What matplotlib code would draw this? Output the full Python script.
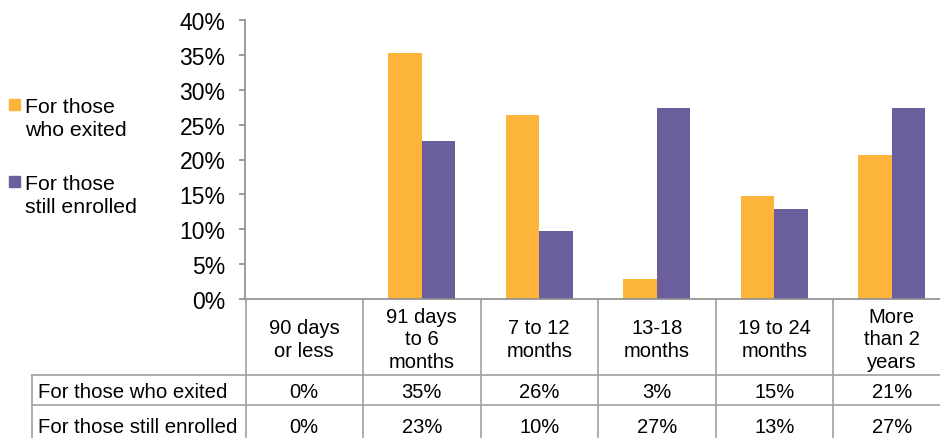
import matplotlib
matplotlib.use("Agg")
from matplotlib import pyplot as plt
from matplotlib.patches import Rectangle
import numpy as np

plt.rcParams['font.family'] = ['Liberation Sans', 'DejaVu Sans']

# data
categories = ['90 days\nor less', '91 days\nto 6\nmonths', '7 to 12\nmonths',
              '13-18\nmonths', '19 to 24\nmonths', 'More\nthan 2\nyears']
exited = [0.0, 35.3, 26.4, 2.9, 14.7, 20.6]
enrolled = [0.0, 22.6, 9.7, 27.4, 12.9, 27.4]
exited_lbl = ['0%', '35%', '26%', '3%', '15%', '21%']
enrolled_lbl = ['0%', '23%', '10%', '27%', '13%', '27%']
series_names = ['For those who exited', 'For those still enrolled']
legend_names = ['For those\nwho exited', 'For those\nstill enrolled']

orange = '#FDB43A'
purple = '#6B5E9D'
grey = '#8C8C8C'
fs = 14.7

W, H = 940, 439
fig = plt.figure(figsize=(W / 100, H / 100), dpi=100)

# pixel layout
left_px, cat_px = 245.5, 117.5
top_px, base_px = 21, 300
n = len(categories)

ax = fig.add_axes([left_px / W, (H - base_px) / H, n * cat_px / W, (base_px - top_px) / H])
x = np.arange(n) + 0.5
bw = 0.285
ax.bar(x - bw / 2, exited, bw, color=orange)
ax.bar(x + bw / 2, enrolled, bw, color=purple)
ax.set_xlim(0, n)
ax.set_ylim(0, 40)
ax.set_yticks(np.arange(0, 41, 5))
ax.set_yticklabels(['%d%%' % v for v in range(0, 41, 5)], fontsize=16.5)
ax.set_xticks([])
for s in ['top', 'right']:
    ax.spines[s].set_visible(False)
for s in ['left', 'bottom']:
    ax.spines[s].set_color(grey)
    ax.spines[s].set_linewidth(1.2)
ax.tick_params(axis='y', length=4.5, width=1.2, color=grey, pad=10)

# data table under the plot
tab_left_px = 32
ax_t = fig.add_axes([tab_left_px / W, 0, (left_px + n * cat_px - tab_left_px) / W, (H - base_px) / H])
ax_t.set_xlim((tab_left_px - left_px) / cat_px, n)
ax_t.set_ylim(H - base_px, 0)
ax_t.axis('off')
xl = (tab_left_px - left_px) / cat_px
lc = '#A0A0A0'
for i in range(n + 1):
    ax_t.plot([i, i], [0, 139], color=lc, lw=1.2, clip_on=False)
ax_t.plot([xl, xl], [76, 139], color=lc, lw=1.2, clip_on=False)
for yy in [76, 106]:
    ax_t.plot([xl, n], [yy, yy], color=lc, lw=1.2, clip_on=False)

for i, c in enumerate(categories):
    ax_t.text(x[i], 40, c, ha='center', va='center', fontsize=14.5, linespacing=1.22)
    ax_t.text(x[i], 93, exited_lbl[i], ha='center', va='center', fontsize=14.5)
    ax_t.text(x[i], 128, enrolled_lbl[i], ha='center', va='center', fontsize=14.5)
ax_t.text(xl + 6 / cat_px, 93, series_names[0], ha='left', va='center', fontsize=fs)
ax_t.text(xl + 6 / cat_px, 128, series_names[1], ha='left', va='center', fontsize=fs)

# legend on the left
for (ytop, col, name) in [(100, orange, legend_names[0]), (177, purple, legend_names[1])]:
    fig.patches.append(Rectangle((9 / W, (H - ytop - 11) / H), 11 / W, 11 / H,
                                 transform=fig.transFigure, color=col))
    fig.text(25 / W, (H - ytop + 2) / H, name, ha='left', va='top',
             fontsize=15.3, linespacing=1.24)

fig.savefig('out.png', dpi=100)
